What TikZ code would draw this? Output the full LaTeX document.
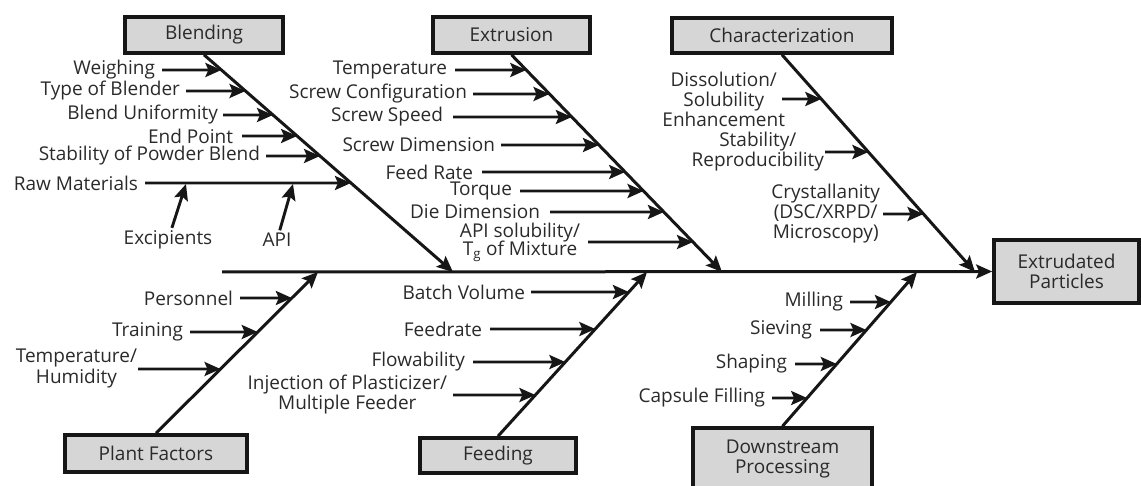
\documentclass[tikz,border=0pt]{standalone}
\usepackage{fontspec}
\setmainfont{Open Sans}
\usetikzlibrary{arrows.meta}
\definecolor{boxgray}{HTML}{D6D6D6}
\definecolor{inkc}{HTML}{161616}
\definecolor{textc}{HTML}{2A2A2A}
\newcommand\lblfont{\fontsize{19}{20}\selectfont}
\newcommand\mkcause[6]{%
  \node[lbl, anchor=east] (#1) at (#2,#3) {#4};
  \coordinate (#1t) at (intersection of #5s--#5e and 0,#3--1141,#3);
  \draw[carr, shorten <=#6] (#1) -- (#1t);
}
\begin{document}
\begin{tikzpicture}[x=1pt,y=-1pt,
  cat/.style={draw=inkc, line width=3.6pt, fill=boxgray, inner sep=0pt,
    font=\lblfont, text=textc, align=center},
  lbl/.style={font=\lblfont, text=textc, align=center, inner sep=0pt, outer sep=0pt},
  tipst/.style={-{Stealth[length=16pt,width=14pt,inset=3pt]}},
  bonel/.style={draw=inkc, line width=3pt, tipst},
  carr/.style={draw=inkc, line width=2.9pt, tipst},
]
\useasboundingbox (0,0) rectangle (1141,486);

% category boxes
\node[cat, minimum width=158pt, minimum height=36pt] (blend) at (204,35) {Blending};
\node[cat, minimum width=157pt, minimum height=36pt] (extr) at (511.5,35) {Extrusion};
\node[cat, minimum width=220pt, minimum height=35pt] (char) at (782,35.5) {Characterization};
\node[cat, minimum width=145pt, minimum height=63pt] (prod) at (1066.5,271.5) {Extrudated\\Particles};
\node[cat, minimum width=182pt, minimum height=37pt] (plant) at (156,453.5) {Plant Factors};
\node[cat, minimum width=156pt, minimum height=35pt] (feed) at (498,455.5) {Feeding};
\node[cat, minimum width=179pt, minimum height=62pt] (down) at (782.5,459) {Downstream\\Processing};

% spine
\coordinate (spineS) at (222,272);
\draw[bonel] (spineS) -- (prod.west);

% bone ends on the spine
\coordinate (b1s) at (blend.south); \coordinate (b1e) at (453,272);
\coordinate (b2s) at (extr.south);  \coordinate (b2e) at (722,272);
\coordinate (b3s) at (char.south);  \coordinate (b3e) at (975,272);
\coordinate (b4s) at (plant.north); \coordinate (b4e) at (318,272);
\coordinate (b5s) at (feed.north);  \coordinate (b5e) at (647,272);
\coordinate (b6s) at (down.north);  \coordinate (b6e) at (917,272);
\foreach \b in {b1,b2,b3,b4,b5,b6} {\draw[bonel] (\b s) -- (\b e);}

% Blending
\mkcause{c11}{155}{70}{Weighing}{b1}{7pt}
\mkcause{c12}{180}{91}{Type of Blender}{b1}{6pt}
\mkcause{c13}{218}{115}{Blend Uniformity}{b1}{5pt}
\mkcause{c14}{233}{136}{End Point}{b1}{9pt}
\mkcause{c15}{260}{156}{Stability of Powder Blend}{b1}{6pt}
\mkcause{c16}{138}{183}{Raw Materials}{b1}{7pt}
\node[lbl] (exc) at (168,240) {Excipients};
\node[lbl] (api) at (277,240) {API};
\coordinate (excT) at (186,184);
\coordinate (apiT) at (293,184);
\draw[carr, shorten <=3pt] (exc) -- (excT);
\draw[carr, shorten <=3pt] (api) -- (apiT);

% Extrusion
\mkcause{c21}{447}{70}{Temperature}{b2}{8pt}
\mkcause{c22}{467}{94}{Screw Configuration}{b2}{6pt}
\mkcause{c23}{443}{117}{Screw Speed}{b2}{10pt}
\mkcause{c24}{495}{145}{Screw Dimension}{b2}{6pt}
\mkcause{c25}{473}{172}{Feed Rate}{b2}{9pt}
\mkcause{c26}{512}{191}{Torque}{b2}{8pt}
\mkcause{c27}{540}{212}{Die Dimension}{b2}{10pt}
\mkcause{c28}{580}{242}{API solubility/\\[-1.5pt]T\textsubscript{g} of Mixture}{b2}{8pt}

% Characterization
\mkcause{c31}{785}{99}{Dissolution/\\Solubility\\Enhancement}{b3}{-3pt}
\mkcause{c32}{824}{152}{Stability/\\Reproducibility}{b3}{1pt}
\mkcause{c33}{880}{214}{Crystallanity\\(DSC/XRPD/\\Microscopy)}{b3}{3pt}

% Plant factors
\mkcause{c41}{233}{298}{Personnel}{b4}{7pt}
\mkcause{c42}{183}{332}{Training}{b4}{7pt}
\mkcause{c43}{137}{369}{Temperature/\\[1pt]Humidity}{b4}{1pt}

% Feeding
\mkcause{c51}{525}{292}{Batch Volume}{b5}{6pt}
\mkcause{c52}{482}{329}{Feedrate}{b5}{8pt}
\mkcause{c53}{465}{362}{Flowability}{b5}{8pt}
\mkcause{c54}{447}{395}{Injection of Plasticizer/\\Multiple Feeder}{b5}{6pt}

% Downstream
\mkcause{c61}{843}{302}{Milling}{b6}{7pt}
\mkcause{c62}{812}{330}{Sieving}{b6}{8pt}
\mkcause{c63}{787}{364}{Shaping}{b6}{8pt}
\mkcause{c64}{765}{398}{Capsule Filling}{b6}{7pt}
\end{tikzpicture}
\end{document}
